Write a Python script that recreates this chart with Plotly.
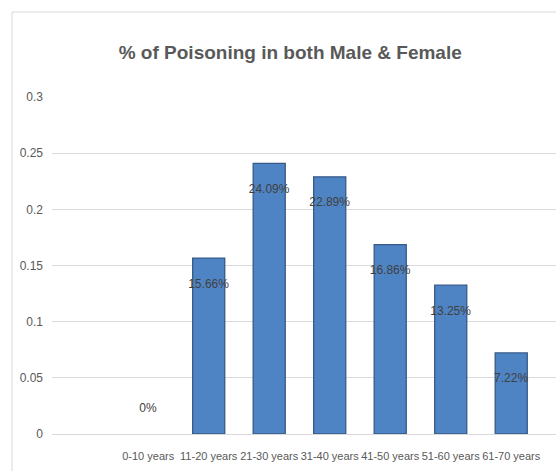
import plotly.graph_objects as go

# Age groups and share of poisoning cases (fraction of total)
age_groups = ["0-10 years", "11-20 years", "21-30 years", "31-40 years",
              "41-50 years", "51-60 years", "61-70 years"]
share = [0.0, 0.1566, 0.2409, 0.2289, 0.1686, 0.1325, 0.0722]
y_ticks = [0, 0.05, 0.1, 0.15, 0.2, 0.25, 0.3]
y_tick_text = ["0", "0.05", "0.1", "0.15", "0.2", "0.25", "0.3"]

FONT = "Liberation Sans, Arial, sans-serif"

labels = [f"{v * 100:.2f}%".replace(".00%", "%") for v in share]
positions = ["outside" if v == 0 else "inside" for v in share]
# an empty line pads each label a little away from the bar end
templates = ["%{text}<br> " if v == 0 else " <br>%{text}" for v in share]
outline = [0 if v == 0 else 1.3 for v in share]

fig = go.Figure(
    go.Bar(
        x=age_groups,
        y=share,
        text=labels,
        texttemplate=templates,
        textposition=positions,
        insidetextanchor="end",
        textangle=0,
        textfont=dict(family=FONT, size=12, color="#404040"),
        cliponaxis=False,
        marker=dict(color="#4f84c4", line=dict(color="#355a88", width=outline)),
        hoverinfo="x+y",
    )
)

fig.update_layout(
    width=556,
    height=471,
    margin=dict(l=52, r=0, t=97, b=37),
    paper_bgcolor="white",
    plot_bgcolor="white",
    font=dict(family=FONT, size=12, color="#595959"),
    title=dict(
        text="<b>% of Poisoning in both Male & Female</b>",
        x=0.522, xanchor="center", y=0.889, yanchor="middle",
        font=dict(family=FONT, size=19, color="#595959"),
    ),
    bargap=0.47,
    showlegend=False,
    uniformtext=dict(minsize=12, mode="show"),
    xaxis=dict(
        type="category",
        range=[-1.59, 6.74],
        showgrid=False,
        showline=True,
        linecolor="#d9d9d9",
        ticks="",
        tickangle=0,
        ticklabelstandoff=12,
        tickfont=dict(family=FONT, size=11, color="#595959"),
    ),
    yaxis=dict(
        range=[0, 0.3],
        tickvals=y_ticks,
        ticktext=y_tick_text,
        showgrid=True,
        gridcolor="#d9d9d9",
        zeroline=False,
        showline=False,
        ticks="",
        ticklabelstandoff=8,
        tickfont=dict(family=FONT, size=12, color="#595959"),
    ),
    shapes=[
        dict(type="rect", xref="paper", yref="paper",
             x0=(12 - 52) / 504, x1=1.2, y0=-0.3, y1=1 + (97 - 12) / 337,
             line=dict(color="#d9d9d9", width=1), fillcolor="rgba(0,0,0,0)",
             layer="below"),
    ],
)

fig.write_html("out.html")
